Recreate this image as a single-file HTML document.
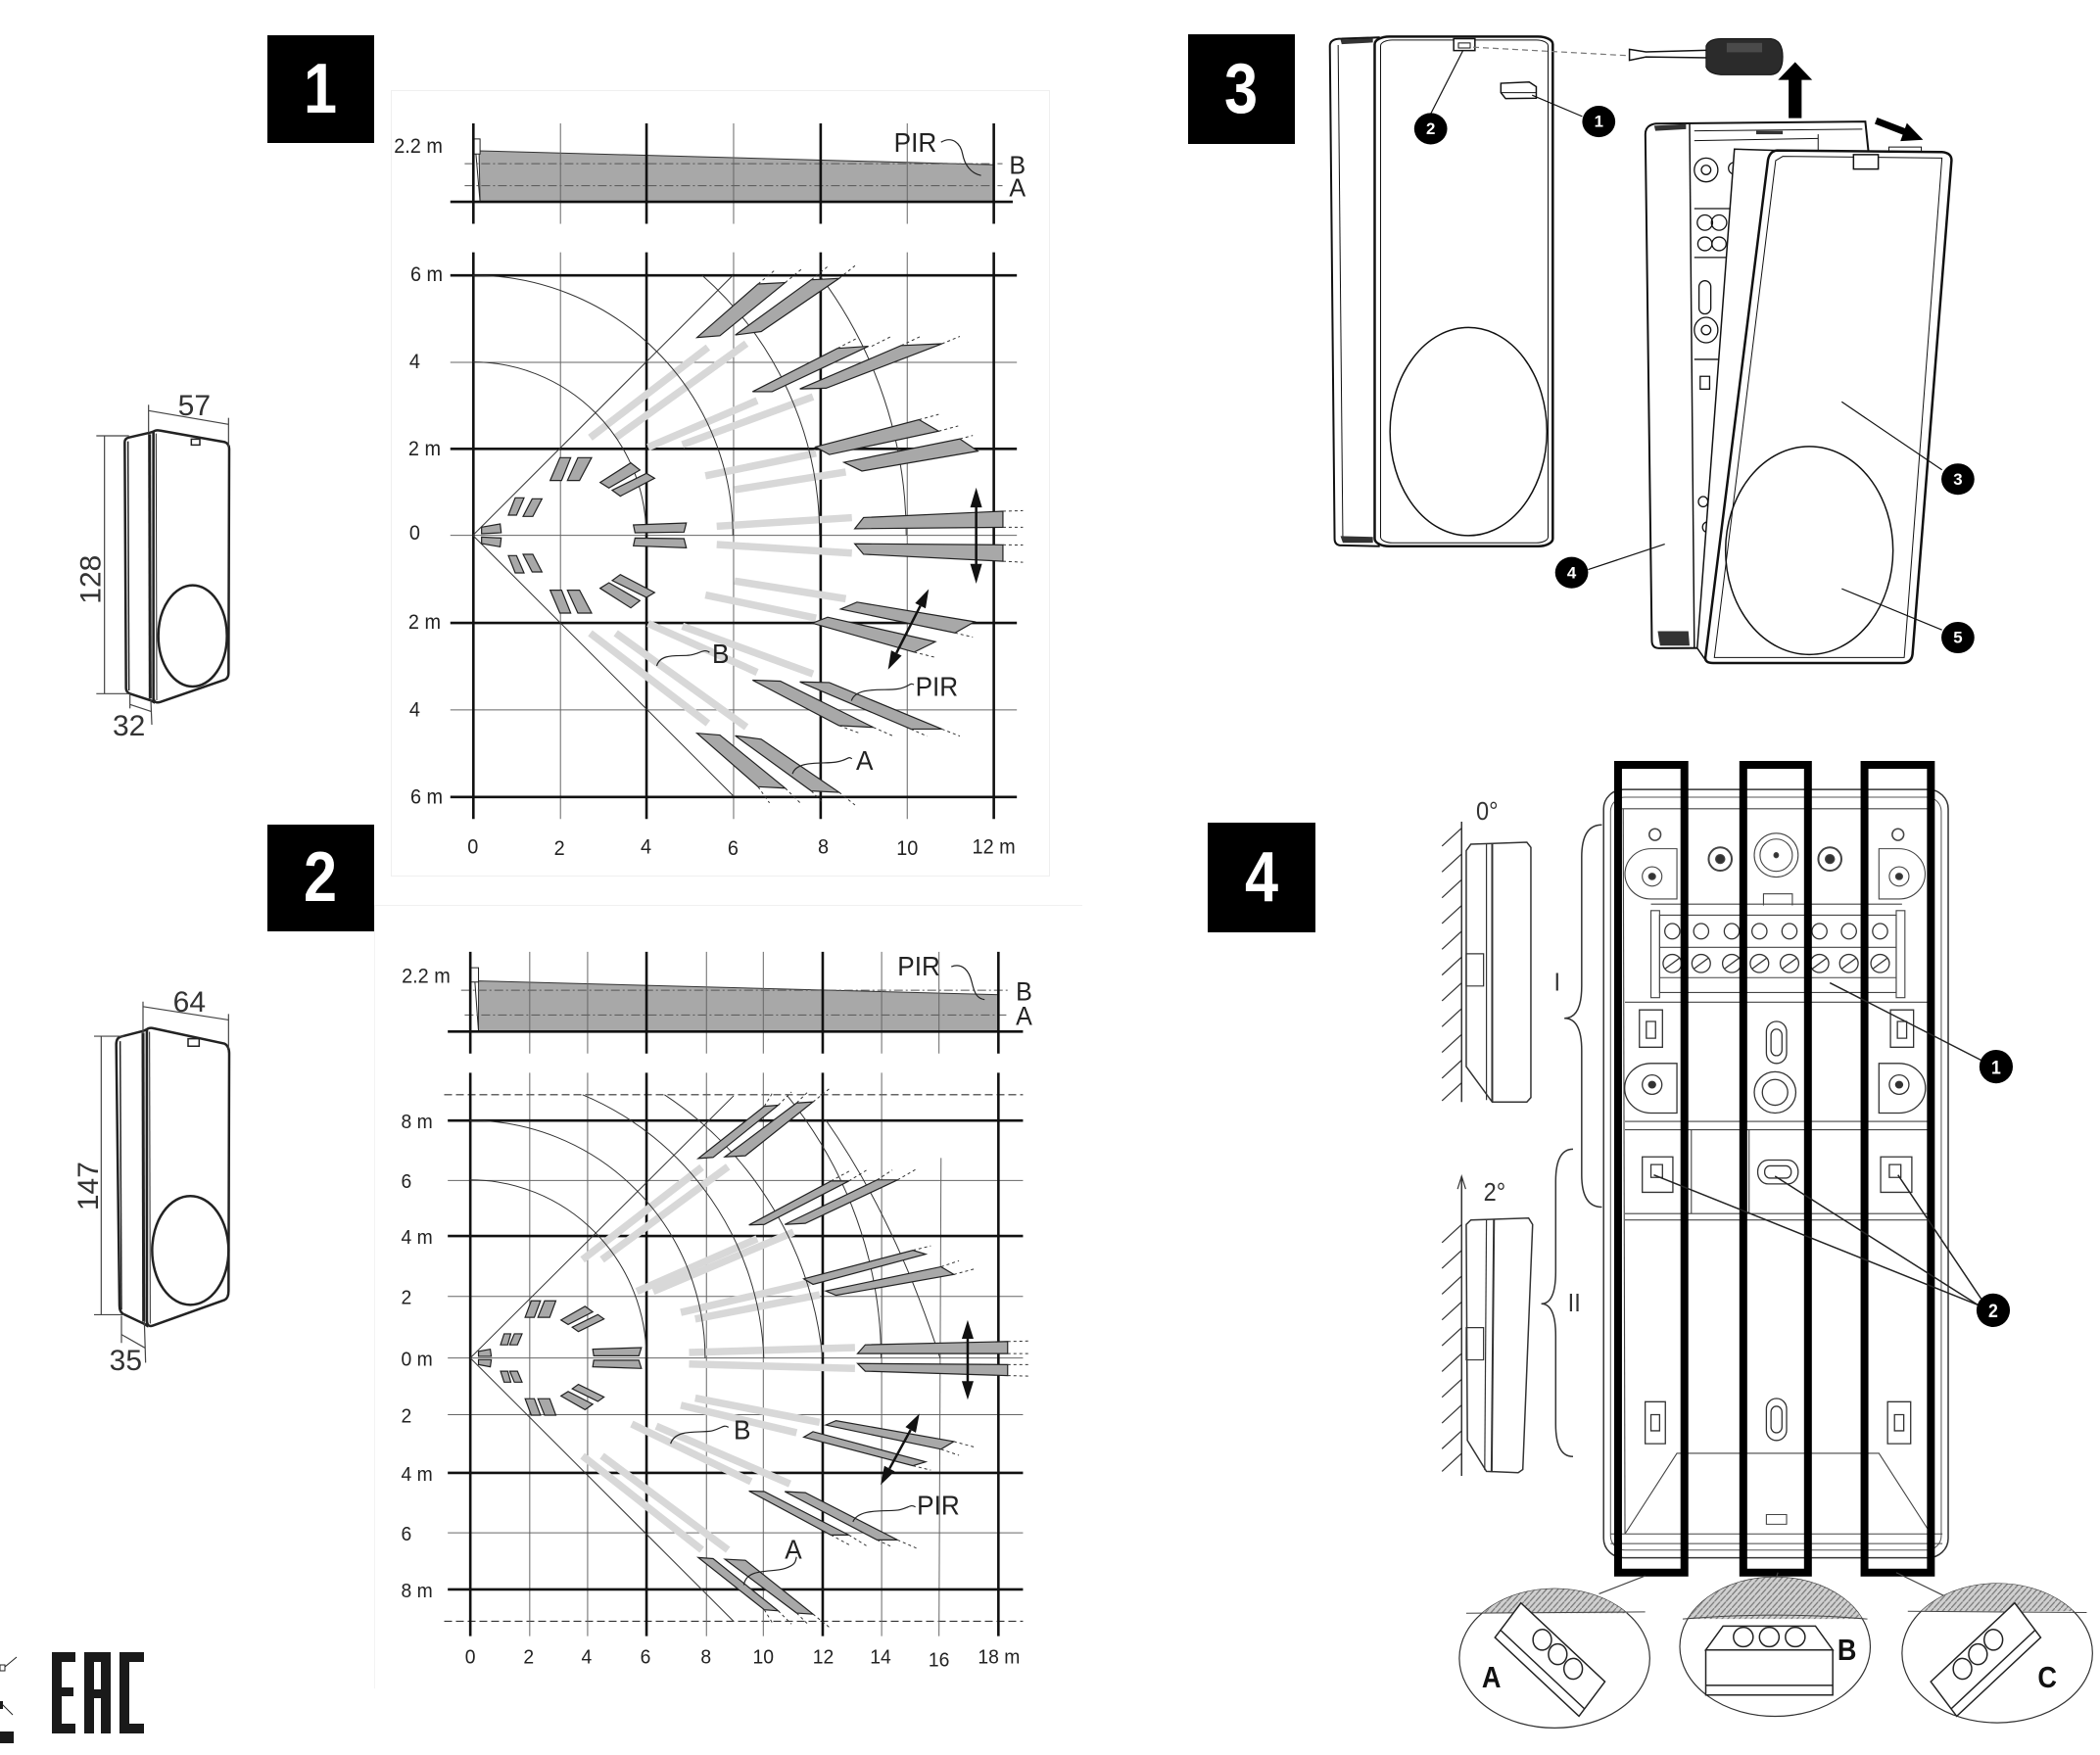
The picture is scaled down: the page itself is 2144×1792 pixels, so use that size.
<!DOCTYPE html>
<html><head><meta charset="utf-8">
<style>
html,body{margin:0;padding:0;background:#fff;}
body{width:2144px;height:1792px;position:relative;overflow:hidden;font-family:"Liberation Sans",sans-serif;}
svg{position:absolute;overflow:visible;}
svg *{vector-effect:non-scaling-stroke;}
.box{position:absolute;background:#000;color:#fff;font-weight:bold;font-size:72px;font-family:"Liberation Sans",sans-serif;text-align:center;}
.box span{display:inline-block;transform:scaleX(0.85);}
.faint{position:absolute;}
</style></head><body>

<div class="faint" style="left:399px;top:92px;width:671px;height:801px;border:1px solid #efefef;"></div>
<div class="faint" style="left:382px;top:924px;width:723px;height:1px;background:#f0f0f0;"></div>
<div class="faint" style="left:382px;top:924px;width:1px;height:800px;background:#f3f3f3;"></div>

<div class="box" style="left:273px;top:36px;width:109px;height:110px;line-height:110px;"><span>1</span></div>
<div class="box" style="left:273px;top:842px;width:109px;height:109px;line-height:109px;"><span>2</span></div>
<div class="box" style="left:1213px;top:35px;width:109px;height:112px;line-height:112px;"><span>3</span></div>
<div class="box" style="left:1233px;top:840px;width:110px;height:112px;line-height:112px;"><span>4</span></div>

<!-- ================= DIAGRAM 1 ================= -->
<svg style="left:260px;top:30px;width:820px;height:860px" viewBox="0 0 1568 1568" preserveAspectRatio="none">
<g font-family="Liberation Sans, sans-serif" fill="#222">
 <polygon points="438,226 1443,252 1443,321 440,321" fill="#a8a8a8" stroke="#333" stroke-width="1"/>
 <line x1="432" y1="232" x2="440" y2="321" stroke="#222" stroke-width="1"/>
 <rect x="428" y="204" width="12" height="28" fill="#fff" stroke="#222" stroke-width="1"/>
 <g stroke="#555" stroke-width="1" stroke-dasharray="9 3 2 3" fill="none">
  <line x1="410" y1="250" x2="1460" y2="250"/>
  <line x1="410" y1="291" x2="1460" y2="291"/>
 </g>
 <g stroke="#666" stroke-width="1">
  <line x1="597" y1="175" x2="597" y2="362"/><line x1="935" y1="175" x2="935" y2="362"/><line x1="1274" y1="175" x2="1274" y2="362"/>
 </g>
 <g stroke="#111" stroke-width="2.6">
  <line x1="427" y1="175" x2="427" y2="362"/><line x1="765" y1="175" x2="765" y2="362"/><line x1="1105" y1="175" x2="1105" y2="362"/><line x1="1443" y1="175" x2="1443" y2="362"/>
  <line x1="382" y1="321" x2="1480" y2="321"/>
 </g>
 <text x="272" y="230" font-size="38">2.2 m</text>
 <text x="1248" y="228" font-size="50">PIR</text>
 <text x="1473" y="269" font-size="48">B</text>
 <text x="1473" y="311" font-size="48">A</text>
 <path d="M1340,210 C1362,198 1378,212 1382,232 S1398,268 1418,272" fill="none" stroke="#222" stroke-width="1.2"/>

 <g stroke="#666" stroke-width="1">
  <line x1="597" y1="415" x2="597" y2="1470"/><line x1="935" y1="415" x2="935" y2="1470"/><line x1="1274" y1="415" x2="1274" y2="1470"/>
  <line x1="382" y1="620" x2="1488" y2="620"/><line x1="382" y1="942" x2="1488" y2="942"/><line x1="382" y1="1267" x2="1488" y2="1267"/>
 </g>
 <g stroke="#111" stroke-width="2.6">
  <line x1="427" y1="415" x2="427" y2="1470"/><line x1="765" y1="415" x2="765" y2="1470"/><line x1="1105" y1="415" x2="1105" y2="1470"/><line x1="1443" y1="415" x2="1443" y2="1470"/>
  <line x1="382" y1="458" x2="1488" y2="458"/><line x1="382" y1="781" x2="1488" y2="781"/><line x1="382" y1="1105" x2="1488" y2="1105"/><line x1="382" y1="1429" x2="1488" y2="1429"/>
 </g>
 <g stroke="#d8d8d8" stroke-width="7.5" stroke-linecap="butt">
  <line x1="655" y1="760" x2="885" y2="592"/><line x1="705" y1="760" x2="960" y2="585"/>
  <line x1="768" y1="778" x2="981" y2="691"/><line x1="835" y1="773" x2="1090" y2="684"/>
  <line x1="880" y1="831" x2="1096" y2="789"/><line x1="937" y1="857" x2="1154" y2="824"/>
  <line x1="902" y1="925" x2="1166" y2="909"/><line x1="902" y1="959" x2="1166" y2="975"/>
  <line x1="937" y1="1027" x2="1154" y2="1060"/><line x1="880" y1="1053" x2="1096" y2="1096"/>
  <line x1="835" y1="1111" x2="1090" y2="1200"/><line x1="768" y1="1106" x2="981" y2="1197"/>
  <line x1="705" y1="1124" x2="960" y2="1299"/><line x1="655" y1="1124" x2="885" y2="1292"/>
 </g>
 <g fill="none" stroke="#333" stroke-width="1">
  <path d="M426,619.2 A338.4,322.8 0 0 1 764.4,942"/>
  <path d="M426,457.8 A507.6,484.2 0 0 1 933.6,942"/>
  <path d="M873.6,457.8 A676.8,645.6 0 0 1 1102.8,942"/>
  <path d="M1102.8,457.8 A846,807 0 0 1 1272,942"/>
  <path d="M426,942 L933.6,457.8"/>
  <path d="M426,942 L933.6,1426.2"/>
 </g>
 <g fill="#a8a8a8" stroke="#222" stroke-width="1.2">
  <polygon points="863.6,573.6 908.2,570.3 1035.7,471.4 982.8,474"/>
  <polygon points="938.2,569 989,562.5 1140.9,463.6 1086.7,466.2"/>
  <polygon points="972,674.5 1010.2,674.5 1198.2,589.9 1137.7,593.8"/>
  <polygon points="1064.4,669.3 1115.4,668 1341.7,585.3 1262,588.6"/>
  <polygon points="1095,777.3 1121.8,791.6 1335.3,748 1297,726.6"/>
  <polygon points="1150.4,806 1185.5,822.2 1411.8,785.1 1376.7,762.4"/>
  <polygon points="1171.5,929.6 1188.7,908.8 1460.8,897 1460.8,927"/>
  <polygon points="1171.5,957.6 1188.7,977.2 1460.8,990.2 1460.8,959.6"/>
  <polygon points="1144.1,1079.3 1175.9,1066.3 1405.4,1102.8 1367.2,1123.6"/>
  <polygon points="1088.6,1105.4 1118.6,1094.3 1328.9,1140 1287.5,1159.4"/>
  <polygon points="972,1211.5 1026.2,1213.4 1207.8,1299.4 1140.9,1296.1"/>
  <polygon points="1064.4,1214.8 1121.8,1216 1341.7,1302.6 1281.1,1302.6"/>
  <polygon points="863.6,1310.4 908.2,1313.7 1035.7,1412.6 982.8,1410"/>
  <polygon points="938.2,1315 989,1321.5 1140.9,1420.4 1086.7,1417.8"/>
  <polygon points="576.9,839.9 596,797.3 617,797.3 599.2,839.9"/>
  <polygon points="610.6,839.9 631,797.3 657.8,797.3 634.2,839.9"/>
  <polygon points="674.4,843.5 734.3,807 752.1,820.4 691.6,853.8"/>
  <polygon points="698,858 764.9,826.5 780.8,835.6 713.9,869"/>
  <polygon points="495.3,904.3 508.7,872.1 525.9,872.1 511.2,904.3"/>
  <polygon points="524,906.7 541.8,873.9 560.9,873.9 543,906.7"/>
  <polygon points="443,926.8 479.3,920.7 481.3,937.1 443,938.9"/>
  <polygon points="739.4,922.5 842.7,918.9 838.2,935.9 742.6,937.1"/>
  <polygon points="576.9,1044.1 596,1086.7 617,1086.7 599.2,1044.1"/>
  <polygon points="610.6,1044.1 631,1086.7 657.8,1086.7 634.2,1044.1"/>
  <polygon points="674.4,1040.5 734.3,1077 752.1,1063.6 691.6,1030.2"/>
  <polygon points="698,1026 764.9,1057.5 780.8,1048.4 713.9,1015"/>
  <polygon points="495.3,979.7 508.7,1011.9 525.9,1011.9 511.2,979.7"/>
  <polygon points="524,977.3 541.8,1010.1 560.9,1010.1 543,977.3"/>
  <polygon points="443,957.2 479.3,963.3 481.3,946.9 443,945.1"/>
  <polygon points="742.6,946.9 838.2,948.1 842.7,965.1 739.4,961.5"/>
 </g>
 <g stroke="#333" stroke-width="1" stroke-dasharray="3 3" fill="none">
  <line x1="982.8" y1="474" x2="1016" y2="448"/><line x1="1035.7" y1="471.4" x2="1068" y2="446"/>
  <line x1="1086.7" y1="466.2" x2="1118" y2="442"/><line x1="1140.9" y1="463.6" x2="1172" y2="440"/>
  <line x1="1137.7" y1="593.8" x2="1179" y2="573.6"/><line x1="1204.6" y1="589.9" x2="1242.9" y2="571.6"/>
  <line x1="1262" y1="588.6" x2="1300.2" y2="571.6"/><line x1="1341.7" y1="585.3" x2="1376.7" y2="571.6"/>
  <line x1="1297" y1="726.6" x2="1335.3" y2="716.8"/><line x1="1335.3" y1="748" x2="1373.5" y2="738.3"/>
  <line x1="1376.7" y1="762.4" x2="1402" y2="756"/>
  <line x1="1460.8" y1="897" x2="1500" y2="896"/><line x1="1460.8" y1="927" x2="1500" y2="927"/>
  <line x1="1460.8" y1="959.6" x2="1500" y2="960"/><line x1="1460.8" y1="990.2" x2="1500" y2="992"/>
  <line x1="1367" y1="1123.6" x2="1402" y2="1131.4"/><line x1="1287.5" y1="1159.4" x2="1329" y2="1169.2"/>
  <line x1="1341.7" y1="1302.6" x2="1376.7" y2="1315.7"/><line x1="1281" y1="1302.6" x2="1313" y2="1316"/>
  <line x1="1140.9" y1="1296.1" x2="1180" y2="1310"/><line x1="1207.8" y1="1299.4" x2="1245" y2="1315"/>
  <line x1="982.8" y1="1410" x2="1005" y2="1440"/><line x1="1035.7" y1="1412.6" x2="1065" y2="1440"/>
  <line x1="1086.7" y1="1417.8" x2="1110" y2="1440"/><line x1="1140.9" y1="1420.4" x2="1172" y2="1444"/>
 </g>
 <g fill="#111" stroke="#111">
  <line x1="1408.6" y1="885" x2="1408.6" y2="1000" stroke-width="2.5"/>
  <polygon points="1408.6,853 1397,890 1420,890" stroke="none"/>
  <polygon points="1408.6,1032 1397,995 1420,995" stroke="none"/>
  <line x1="1299.6" y1="1073" x2="1252.9" y2="1161" stroke-width="2.5"/>
  <polygon points="1316,1042 1309.8,1077.9 1289.4,1068.1" stroke="none"/>
  <polygon points="1236.5,1192 1263.1,1165.9 1242.7,1156.1" stroke="none"/>
 </g>
 <g fill="none" stroke="#222" stroke-width="1.2">
  <path d="M785,1185 C792,1160 830,1168 850,1165 S878,1152 888,1160"/>
  <path d="M1165,1250 C1175,1222 1230,1232 1255,1228 S1278,1215 1287,1220"/>
  <path d="M1050,1386 C1058,1360 1110,1368 1135,1364 S1158,1352 1166,1358"/>
 </g>
 <text x="893" y="1180" font-size="50">B</text>
 <text x="1290" y="1241" font-size="50">PIR</text>
 <text x="1174" y="1378" font-size="50">A</text>
 <g font-size="38">
  <text x="304" y="469">6 m</text>
  <text x="302" y="631">4</text>
  <text x="300" y="793">2 m</text>
  <text x="302" y="950">0</text>
  <text x="300" y="1116">2 m</text>
  <text x="302" y="1279">4</text>
  <text x="304" y="1441">6 m</text>
 </g>
 <g font-size="38" text-anchor="middle">
  <text x="426" y="1534">0</text><text x="595" y="1537">2</text><text x="764" y="1534">4</text>
  <text x="934" y="1537">6</text><text x="1110" y="1534">8</text><text x="1274" y="1537">10</text>
  <text x="1443" y="1534">12 m</text>
 </g>
</g>
</svg>

<!-- ================= DIAGRAM 2 ================= -->
<svg style="left:260px;top:840px;width:820px;height:880px" viewBox="0 0 1568 1568" preserveAspectRatio="none">
<g font-family="Liberation Sans, sans-serif" fill="#222">
 <polygon points="437,288 1452,313 1452,380 437,380" fill="#a8a8a8" stroke="#333" stroke-width="1"/>
 <line x1="430" y1="290" x2="437" y2="380" stroke="#222" stroke-width="1"/>
 <rect x="422" y="264" width="15" height="26" fill="#fff" stroke="#222" stroke-width="1"/>
 <g stroke="#555" stroke-width="1" stroke-dasharray="9 3 2 3" fill="none">
  <line x1="403" y1="305" x2="1470" y2="305"/>
  <line x1="410" y1="350" x2="1470" y2="350"/>
 </g>
 <g stroke="#666" stroke-width="1">
  <line x1="537" y1="235" x2="537" y2="420"/><line x1="650" y1="235" x2="650" y2="420"/><line x1="882" y1="235" x2="882" y2="420"/>
  <line x1="993" y1="235" x2="993" y2="420"/><line x1="1224" y1="235" x2="1224" y2="420"/><line x1="1336" y1="235" x2="1336" y2="420"/>
 </g>
 <g stroke="#111" stroke-width="2.6">
  <line x1="421" y1="235" x2="421" y2="420"/><line x1="765" y1="235" x2="765" y2="420"/><line x1="1109" y1="235" x2="1109" y2="420"/><line x1="1452" y1="235" x2="1452" y2="420"/>
  <line x1="377" y1="380" x2="1500" y2="380"/>
 </g>
 <text x="287" y="291" font-size="38">2.2 m</text>
 <text x="1255" y="278" font-size="50">PIR</text>
 <text x="1486" y="323" font-size="48">B</text>
 <text x="1486" y="368" font-size="48">A</text>
 <path d="M1360,262 C1382,254 1395,270 1400,290 S1410,320 1425,322" fill="none" stroke="#222" stroke-width="1.2"/>

 <g stroke="#333" stroke-width="1.2" stroke-dasharray="8 4">
  <line x1="370" y1="495" x2="1500" y2="495"/><line x1="370" y1="1453" x2="1500" y2="1453"/>
 </g>
 <g stroke="#666" stroke-width="1">
  <line x1="537" y1="455" x2="537" y2="1480"/><line x1="650" y1="455" x2="650" y2="1480"/><line x1="882" y1="455" x2="882" y2="1480"/>
  <line x1="993" y1="455" x2="993" y2="1480"/><line x1="1224" y1="455" x2="1224" y2="1480"/>
  <line x1="1340" y1="610" x2="1336" y2="1480"/>
  <line x1="377" y1="651" x2="1500" y2="651"/><line x1="377" y1="862" x2="1500" y2="862"/><line x1="377" y1="974" x2="1500" y2="974"/>
  <line x1="377" y1="1077" x2="1500" y2="1077"/><line x1="377" y1="1292" x2="1500" y2="1292"/>
 </g>
 <g stroke="#111" stroke-width="2.6">
  <line x1="421" y1="455" x2="421" y2="1480"/><line x1="765" y1="455" x2="765" y2="1480"/><line x1="1109" y1="455" x2="1109" y2="1480"/><line x1="1452" y1="455" x2="1452" y2="1480"/>
  <line x1="377" y1="542" x2="1500" y2="542"/><line x1="377" y1="752" x2="1500" y2="752"/><line x1="377" y1="1183" x2="1500" y2="1183"/><line x1="377" y1="1395" x2="1500" y2="1395"/>
 </g>
 <g stroke="#d8d8d8" stroke-width="7.5">
  <line x1="640" y1="795" x2="873" y2="627"/><line x1="678" y1="795" x2="924" y2="626"/>
  <line x1="746" y1="853" x2="981" y2="757"/><line x1="778" y1="853" x2="1052" y2="745"/>
  <line x1="832" y1="891" x2="1084" y2="837"/><line x1="860" y1="903" x2="1103" y2="859"/>
  <line x1="848" y1="964" x2="1172" y2="955"/><line x1="848" y1="985" x2="1172" y2="993"/>
  <line x1="860" y1="1047" x2="1103" y2="1091"/><line x1="832" y1="1060" x2="1058" y2="1110"/>
  <line x1="784" y1="1098" x2="1045" y2="1203"/><line x1="736" y1="1094" x2="969" y2="1199"/>
  <line x1="678" y1="1152" x2="924" y2="1323"/><line x1="640" y1="1152" x2="873" y2="1323"/>
 </g>
 <g fill="none" stroke="#333" stroke-width="1">
  <path d="M421,650 A343.8,324 0 0 1 764.8,974"/>
  <path d="M421,542 A458.4,432 0 0 1 879.4,974"/>
  <path d="M640,495 A573,540 0 0 1 994,974"/>
  <path d="M800,495 A687.6,648 0 0 1 1108.6,974"/>
  <path d="M1040,497 A802,756 0 0 1 1223,974"/>
  <path d="M1115,541 Q1250,720 1338,974"/>
  <path d="M421,974 L935,497"/>
  <path d="M421,974 L935,1453"/>
 </g>
 <g fill="#a8a8a8" stroke="#222" stroke-width="1.2">
  <polygon points="866,611 895,609 1022,514 995,516"/>
  <polygon points="918,608 958,606 1090,508 1058,510"/>
  <polygon points="965,732 995,731 1160,652 1125,652"/>
  <polygon points="1035,731 1075,729 1255,650 1215,650"/>
  <polygon points="1072,830 1090,840 1310,785 1285,778"/>
  <polygon points="1115,852 1135,860 1365,822 1340,808"/>
  <polygon points="1177,966 1192,950 1470,944 1470,966"/>
  <polygon points="1177,984 1192,998 1470,1006 1470,986"/>
  <polygon points="1115,1096 1135,1088 1365,1126 1340,1140"/>
  <polygon points="1072,1118 1090,1108 1310,1163 1285,1170"/>
  <polygon points="965,1216 995,1217 1160,1296 1125,1296"/>
  <polygon points="1035,1217 1075,1219 1255,1305 1215,1305"/>
  <polygon points="866,1337 895,1339 1022,1434 995,1432"/>
  <polygon points="918,1340 958,1342 1090,1440 1058,1438"/>
  <polygon points="528,900 540,870 558,870 546,900"/>
  <polygon points="553,900 566,870 588,870 576,900"/>
  <polygon points="598,905 645,880 660,890 612,913"/>
  <polygon points="620,918 670,895 682,903 632,926"/>
  <polygon points="480,950 487,930 500,930 494,950"/>
  <polygon points="498,950 507,930 522,930 513,950"/>
  <polygon points="437,962 460,958 462,971 437,971"/>
  <polygon points="660,958 755,955 750,970 662,970"/>
  <polygon points="528,1048 540,1078 558,1078 546,1048"/>
  <polygon points="553,1048 566,1078 588,1078 576,1048"/>
  <polygon points="598,1043 645,1068 660,1058 612,1035"/>
  <polygon points="620,1030 670,1053 682,1045 632,1022"/>
  <polygon points="480,998 487,1018 500,1018 494,998"/>
  <polygon points="498,998 507,1018 522,1018 513,998"/>
  <polygon points="437,986 460,990 462,977 437,977"/>
  <polygon points="662,978 750,978 755,993 660,990"/>
 </g>
 <g stroke="#333" stroke-width="1" stroke-dasharray="3 3" fill="none">
  <line x1="995" y1="516" x2="1012" y2="490"/><line x1="1022" y1="514" x2="1048" y2="490"/>
  <line x1="1058" y1="510" x2="1082" y2="488"/><line x1="1090" y1="508" x2="1122" y2="484"/>
  <line x1="1125" y1="652" x2="1165" y2="632"/><line x1="1160" y1="652" x2="1195" y2="632"/>
  <line x1="1215" y1="650" x2="1245" y2="632"/><line x1="1255" y1="650" x2="1292" y2="630"/>
  <line x1="1285" y1="778" x2="1320" y2="770"/><line x1="1340" y1="808" x2="1375" y2="797"/><line x1="1365" y1="822" x2="1405" y2="812"/>
  <line x1="1470" y1="944" x2="1515" y2="943"/><line x1="1470" y1="966" x2="1515" y2="966"/>
  <line x1="1470" y1="986" x2="1515" y2="986"/><line x1="1470" y1="1006" x2="1515" y2="1007"/>
  <line x1="1365" y1="1126" x2="1405" y2="1136"/><line x1="1340" y1="1140" x2="1375" y2="1151"/><line x1="1285" y1="1170" x2="1320" y2="1178"/>
  <line x1="1125" y1="1296" x2="1165" y2="1316"/><line x1="1160" y1="1296" x2="1195" y2="1316"/>
  <line x1="1215" y1="1305" x2="1245" y2="1318"/><line x1="1255" y1="1305" x2="1292" y2="1320"/>
  <line x1="995" y1="1432" x2="1012" y2="1458"/><line x1="1022" y1="1434" x2="1048" y2="1458"/>
  <line x1="1058" y1="1438" x2="1082" y2="1460"/><line x1="1090" y1="1440" x2="1122" y2="1464"/>
 </g>
 <g fill="#111" stroke="#111">
  <line x1="1392" y1="935" x2="1392" y2="1020" stroke-width="2.5"/>
  <polygon points="1392,905 1380.5,939 1403.5,939" stroke="none"/>
  <polygon points="1392,1050 1380.5,1016 1403.5,1016" stroke="none"/>
  <line x1="1280.6" y1="1104.8" x2="1239.4" y2="1175.2" stroke-width="2.5"/>
  <polygon points="1298,1075 1290.7,1109.9 1270.5,1099.7" stroke="none"/>
  <polygon points="1222,1205 1249.5,1180.3 1229.3,1170.1" stroke="none"/>
 </g>
 <g fill="none" stroke="#222" stroke-width="1.2">
  <path d="M812,1130 C822,1100 875,1112 895,1106 S915,1095 925,1100"/>
  <path d="M1168,1272 C1180,1245 1240,1255 1260,1250 S1280,1240 1290,1245"/>
  <path d="M955,1387 C960,1355 1010,1365 1035,1357 S1055,1342 1058,1336"/>
 </g>
 <text x="935" y="1122" font-size="50">B</text>
 <text x="1293" y="1259" font-size="50">PIR</text>
 <text x="1035" y="1339" font-size="50">A</text>
 <g font-size="37">
  <text x="286" y="556">8 m</text>
  <text x="286" y="665">6</text>
  <text x="286" y="766">4 m</text>
  <text x="286" y="876">2</text>
  <text x="286" y="988">0 m</text>
  <text x="286" y="1091">2</text>
  <text x="286" y="1197">4 m</text>
  <text x="286" y="1306">6</text>
  <text x="286" y="1409">8 m</text>
 </g>
 <g font-size="37" text-anchor="middle">
  <text x="421" y="1530">0</text><text x="535" y="1530">2</text><text x="648" y="1530">4</text>
  <text x="763" y="1530">6</text><text x="881" y="1530">8</text><text x="993" y="1530">10</text>
  <text x="1110" y="1530">12</text><text x="1222" y="1530">14</text><text x="1336" y="1535">16</text>
  <text x="1453" y="1530">18 m</text>
 </g>
</g>
</svg>

<!-- ================= LEFT DEVICE 1 ================= -->
<svg style="left:0px;top:380px;width:260px;height:420px" viewBox="0 0 780 1260">
<g fill="none" stroke="#222">
 <path d="M382,215 Q382,203 395,200 L460,185 L470,182 L470,1010 L460,1005 L398,985 Q386,980 386,968 Z" fill="#fff" stroke-width="2.5"/>
 <line x1="392" y1="212" x2="395" y2="975" stroke-width="1.5"/>
 <line x1="458" y1="190" x2="460" y2="1000" stroke-width="3"/>
 <path d="M470,182 Q478,176 490,179 L688,214 Q702,219 702,235 L700,922 Q700,938 686,943 L492,1010 Q472,1016 470,1000 Z" fill="#fff" stroke-width="2.5"/>
 <line x1="478" y1="188" x2="480" y2="1005" stroke-width="1"/>
 <rect x="586" y="205" width="26" height="18" stroke-width="1.5"/>
 <ellipse cx="590" cy="808" rx="105" ry="155" stroke-width="2.5"/>
 <g stroke="#444" stroke-width="1.2">
  <line x1="455" y1="100" x2="455" y2="185"/><line x1="700" y1="140" x2="700" y2="228"/>
  <line x1="455" y1="118" x2="700" y2="160"/>
  <line x1="295" y1="195" x2="395" y2="195"/><line x1="295" y1="985" x2="395" y2="985"/>
  <line x1="320" y1="195" x2="320" y2="985"/>
  <line x1="398" y1="985" x2="398" y2="1030"/><line x1="462" y1="1005" x2="465" y2="1080"/>
  <line x1="398" y1="1018" x2="465" y2="1040"/>
 </g>
</g>
<g font-family="Liberation Sans, sans-serif" fill="#333" font-size="90">
 <text x="545" y="132">57</text>
 <text transform="translate(307,635) rotate(-90)" text-anchor="middle">128</text>
 <text x="345" y="1113">32</text>
</g>
</svg>

<!-- ================= LEFT DEVICE 2 ================= -->
<svg style="left:0px;top:1000px;width:260px;height:792px" viewBox="0 0 780 1568" preserveAspectRatio="none">
<g fill="none" stroke="#222">
 <path d="M356,132 Q356,118 370,116 L440,104 L450,101 L450,700 L440,696 L376,676 Q366,671 366,660 Z" fill="#fff" stroke-width="2.5"/>
 <line x1="368" y1="125" x2="372" y2="668" stroke-width="1.5"/>
 <line x1="438" y1="108" x2="440" y2="692" stroke-width="3"/>
 <path d="M450,101 Q458,97 470,99 L688,130 Q702,135 702,150 L700,630 Q700,644 688,648 L468,700 Q451,704 450,690 Z" fill="#fff" stroke-width="2.5"/>
 <line x1="458" y1="106" x2="460" y2="696" stroke-width="1"/>
 <rect x="576" y="120" width="34" height="15" stroke-width="1.5"/>
 <ellipse cx="583" cy="548" rx="117" ry="110" stroke-width="2.5"/>
 <g stroke="#444" stroke-width="1.2">
  <line x1="438" y1="45" x2="438" y2="110"/><line x1="700" y1="70" x2="700" y2="140"/>
  <line x1="438" y1="55" x2="700" y2="82"/>
  <line x1="288" y1="115" x2="380" y2="115"/><line x1="288" y1="678" x2="380" y2="678"/>
  <line x1="310" y1="115" x2="310" y2="678"/>
  <line x1="372" y1="680" x2="372" y2="735"/><line x1="442" y1="690" x2="446" y2="775"/>
  <line x1="372" y1="718" x2="444" y2="745"/>
 </g>
</g>
<g font-family="Liberation Sans, sans-serif" fill="#333" font-size="90">
 <text transform="translate(530,65) scale(1,0.66)">64</text>
 <text transform="translate(300,418) scale(1,0.66) rotate(-90)" text-anchor="middle">147</text>
 <text transform="translate(335,790) scale(1,0.66)">35</text>
</g>
</svg>

<!-- ================= EAC / WEEE ================= -->
<svg style="left:0px;top:1640px;width:170px;height:152px" viewBox="0 0 170 152">
<g fill="#1a1a1a">
 <rect x="53" y="47" width="10" height="83"/><rect x="53" y="47" width="24" height="10"/><rect x="53" y="83" width="22" height="9"/><rect x="53" y="120" width="24" height="10"/>
 <rect x="86" y="47" width="10" height="83"/><rect x="103" y="47" width="10" height="83"/><rect x="86" y="47" width="27" height="10"/><rect x="86" y="85" width="27" height="9"/>
 <rect x="122" y="47" width="10" height="83"/><rect x="122" y="47" width="25" height="10"/><rect x="122" y="120" width="25" height="10"/>
 <rect x="0" y="128" width="14" height="12"/>
 <rect x="0" y="97" width="3" height="8"/>
</g>
<g stroke="#222" stroke-width="1" fill="none">
 <rect x="0" y="60" width="5" height="6"/>
 <line x1="5" y1="62" x2="17" y2="52"/>
 <line x1="2" y1="100" x2="13" y2="111"/>
</g>
</svg>

<!-- ================= PANEL 3 ================= -->
<svg style="left:1200px;top:20px;width:944px;height:680px" viewBox="0 0 1568 1568" preserveAspectRatio="none">
<g fill="#fff" stroke="#111">
 <path d="M262,62 Q262,45 282,45 L345,42 L345,1240 L282,1238 Q270,1238 270,1222 Z" stroke-width="2"/>
 <line x1="276" y1="60" x2="284" y2="1228" stroke-width="1"/>
 <polygon points="280,47 335,44 335,54 282,58" fill="#333" stroke="none"/>
 <polygon points="280,1216 335,1218 335,1232 284,1232" fill="#333" stroke="none"/>
 <rect x="338" y="40" width="302" height="1200" rx="25" ry="18" stroke-width="2.5"/>
 <rect x="348" y="48" width="284" height="1184" rx="20" ry="14" fill="none" stroke-width="1"/>
 <ellipse cx="497" cy="970" rx="133" ry="245" fill="none" stroke-width="1.5"/>
 <rect x="472" y="45" width="36" height="28" stroke-width="1.5"/>
 <rect x="480" y="55" width="20" height="12" fill="none" stroke-width="1"/>
 <path d="M552,172 L552,150 L600,147 L612,158 L612,185 L560,186 Z" stroke-width="1.5"/>
 <line x1="552" y1="172" x2="612" y2="172" stroke-width="1"/>

 <path d="M797,270 Q797,248 815,245 L1170,240 L1176,320 L1176,1478 L820,1480 Q808,1480 808,1462 Z" stroke-width="2"/>
 <line x1="872" y1="245" x2="880" y2="1478" stroke-width="1.5"/>
 <polygon points="812,250 866,246 866,258 814,262" fill="#333" stroke="none"/>
 <polygon points="818,1440 870,1440 872,1474 822,1474" fill="#333" stroke="none"/>
 <line x1="880" y1="262" x2="1165" y2="258" stroke-width="1"/>
 <line x1="880" y1="285" x2="1090" y2="280" stroke-width="1"/>
 <line x1="1090" y1="270" x2="1090" y2="310" stroke-width="1"/>
 <rect x="985" y="262" width="45" height="8" fill="#333" stroke="none"/>
 <rect x="1210" y="300" width="55" height="12" stroke-width="1"/>
 <g fill="none" stroke-width="1.3">
  <ellipse cx="900" cy="354" rx="20" ry="28"/><ellipse cx="900" cy="354" rx="8" ry="11"/>
  <ellipse cx="948" cy="350" rx="10" ry="14"/>
  <ellipse cx="898" cy="478" rx="13" ry="18"/><ellipse cx="922" cy="478" rx="13" ry="18"/>
  <ellipse cx="898" cy="528" rx="12" ry="16"/><ellipse cx="922" cy="528" rx="12" ry="16"/>
  <line x1="880" y1="445" x2="960" y2="445"/><line x1="880" y1="560" x2="960" y2="560"/>
  <rect x="888" y="615" width="20" height="78" rx="10" ry="14"/>
  <ellipse cx="900" cy="731" rx="20" ry="30"/><ellipse cx="900" cy="731" rx="8" ry="11"/>
  <line x1="880" y1="800" x2="940" y2="800"/>
  <rect x="890" y="840" width="16" height="30"/>
  <ellipse cx="895" cy="1135" rx="8" ry="12"/><ellipse cx="902" cy="1195" rx="8" ry="12"/>
 </g>
 <path d="M948,305 L1020,308 L899,1508 L885,1480 Z" stroke-width="1.5"/>
 <path d="M1020,308 L1300,312 Q1318,314 1316,335 L1250,1495 Q1248,1515 1232,1515 L912,1515 Q897,1515 899,1500 L1005,330 Q1008,310 1020,308 Z" stroke-width="2.5"/>
 <path d="M1030,322 L1300,326 L1236,1502 L914,1502 L1018,332 Z" fill="none" stroke-width="1"/>
 <rect x="1150" y="318" width="42" height="34" stroke-width="1.5"/>
 <ellipse cx="1075" cy="1250" rx="142" ry="245" fill="none" stroke-width="1.5"/>
</g>
<line x1="505" y1="65" x2="770" y2="85" stroke="#777" stroke-width="1.2" stroke-dasharray="6 4"/>
<polygon points="770,70 798,76 905,72 905,90 798,88 770,96" fill="#fff" stroke="#111" stroke-width="1.5"/>
<path d="M900,62 Q905,45 925,45 L1010,45 Q1030,48 1030,88 Q1030,128 1010,130 L925,130 Q905,128 900,112 Z" fill="#2b2b2b" stroke="#111" stroke-width="1"/>
<rect x="935" y="55" width="60" height="22" fill="#4a4a4a" stroke="none"/>
<rect x="1040" y="138" width="22" height="94" fill="#000"/>
<polygon points="1022,142 1080,142 1051,100" fill="#000"/>
<line x1="1188" y1="238" x2="1238" y2="265" stroke="#000" stroke-width="7"/>
<polygon points="1268,283 1229.5,286.3 1240.5,243.7" fill="#000"/>
<g stroke="#111" stroke-width="1.2">
 <line x1="433" y1="222" x2="488" y2="72"/>
 <line x1="690" y1="228" x2="605" y2="178"/>
 <line x1="1300" y1="1060" x2="1130" y2="900"/>
 <line x1="700" y1="1295" x2="830" y2="1235"/>
 <line x1="1300" y1="1437" x2="1130" y2="1340"/>
</g>
<g fill="#000">
 <ellipse cx="433" cy="257" rx="28" ry="37"/>
 <ellipse cx="718" cy="240" rx="28" ry="37"/>
 <ellipse cx="1327" cy="1082" rx="28" ry="37"/>
 <ellipse cx="672" cy="1302" rx="28" ry="37"/>
 <ellipse cx="1327" cy="1455" rx="28" ry="37"/>
</g>
<g fill="#fff" font-family="Liberation Sans, sans-serif" font-weight="bold" font-size="28" text-anchor="middle">
 <text transform="matrix(1 0 0 1.388 433 270)">2</text>
 <text transform="matrix(1 0 0 1.388 718 253)">1</text>
 <text transform="matrix(1 0 0 1.388 1327 1095)">3</text>
 <text transform="matrix(1 0 0 1.388 672 1315)">4</text>
 <text transform="matrix(1 0 0 1.388 1327 1468)">5</text>
</g>
</svg>

<!-- ================= PANEL 4 ================= -->
<svg style="left:1220px;top:760px;width:924px;height:1032px" viewBox="0 0 1568 1568" preserveAspectRatio="none">
<defs>
 <pattern id="hatch" patternUnits="userSpaceOnUse" width="10" height="10">
  <rect width="10" height="10" fill="#d0d0d0"/>
  <path d="M0,10 L10,0" stroke="#777" stroke-width="1.2"/>
 </pattern>
 <clipPath id="ca"><ellipse cx="623" cy="1418" rx="165" ry="108"/></clipPath>
 <clipPath id="cb"><ellipse cx="1005" cy="1400" rx="165" ry="108"/></clipPath>
 <clipPath id="cc"><ellipse cx="1390" cy="1410" rx="165" ry="108"/></clipPath>
</defs>
<rect x="708" y="70" width="597" height="1192" rx="35" ry="30" fill="#fff" stroke="#333" stroke-width="1.5"/>
<rect x="720" y="82" width="573" height="1168" rx="25" ry="22" fill="none" stroke="#555" stroke-width="1"/>
<g fill="none" stroke="#444" stroke-width="1.1">
 <line x1="740" y1="100" x2="1280" y2="100"/>
 <line x1="742" y1="100" x2="745" y2="1225"/><line x1="1278" y1="100" x2="1275" y2="1225"/>
 <line x1="790" y1="248" x2="1225" y2="248"/>
 <line x1="745" y1="400" x2="1275" y2="400"/>
 <line x1="745" y1="585" x2="1275" y2="585"/><line x1="745" y1="598" x2="1275" y2="598"/>
 <line x1="745" y1="728" x2="1275" y2="728"/><line x1="745" y1="738" x2="1275" y2="738"/>
 <line x1="860" y1="598" x2="860" y2="728"/><line x1="960" y1="598" x2="960" y2="728"/>
 <line x1="1065" y1="598" x2="1065" y2="728"/><line x1="1155" y1="598" x2="1155" y2="728"/>
 <path d="M745,1225 L835,1100 L1185,1100 L1275,1225"/>
 <line x1="720" y1="1225" x2="1295" y2="1225"/><line x1="720" y1="1240" x2="1295" y2="1240"/>
 <rect x="990" y="1195" width="35" height="15"/>
 <path d="M790,162 L835,162 L835,240 L790,240 A45,39 0 0 1 790,162 Z"/>
 <ellipse cx="792" cy="205" rx="17" ry="15"/><ellipse cx="792" cy="205" rx="6" ry="5" fill="#333"/>
 <path d="M1220,162 L1185,162 L1185,240 L1220,240 A45,39 0 0 0 1220,162 Z"/>
 <ellipse cx="1220" cy="205" rx="17" ry="15"/><ellipse cx="1220" cy="205" rx="6" ry="5" fill="#333"/>
 <ellipse cx="797" cy="140" rx="10" ry="9" stroke-width="1.5"/><ellipse cx="1218" cy="140" rx="10" ry="9" stroke-width="1.5"/>
 <ellipse cx="910" cy="178" rx="20" ry="18" stroke-width="2"/><ellipse cx="910" cy="178" rx="8" ry="7" fill="#333"/>
 <ellipse cx="1100" cy="178" rx="20" ry="18" stroke-width="2"/><ellipse cx="1100" cy="178" rx="8" ry="7" fill="#333"/>
 <ellipse cx="1007" cy="172" rx="38" ry="34"/><ellipse cx="1007" cy="172" rx="28" ry="25"/><ellipse cx="1007" cy="172" rx="4" ry="4" fill="#333"/>
 <path d="M985,250 L985,232 L1035,232 L1035,250"/>
 <rect x="805" y="265" width="410" height="120"/>
 <rect x="790" y="258" width="15" height="135"/><rect x="1215" y="258" width="15" height="135"/>
 <line x1="805" y1="315" x2="1215" y2="315"/><line x1="805" y1="362" x2="1215" y2="362"/>
</g>
<g fill="#fff" stroke="#333" stroke-width="1.3">
 <ellipse cx="827" cy="290" rx="13" ry="12"/><ellipse cx="877" cy="290" rx="13" ry="12"/><ellipse cx="930" cy="290" rx="13" ry="12"/><ellipse cx="978" cy="290" rx="13" ry="12"/>
 <ellipse cx="1030" cy="290" rx="13" ry="12"/><ellipse cx="1082" cy="290" rx="13" ry="12"/><ellipse cx="1133" cy="290" rx="13" ry="12"/><ellipse cx="1187" cy="290" rx="13" ry="12"/>
 <ellipse cx="827" cy="340" rx="16" ry="14"/><ellipse cx="877" cy="340" rx="16" ry="14"/><ellipse cx="930" cy="340" rx="16" ry="14"/><ellipse cx="978" cy="340" rx="16" ry="14"/>
 <ellipse cx="1030" cy="340" rx="16" ry="14"/><ellipse cx="1082" cy="340" rx="16" ry="14"/><ellipse cx="1133" cy="340" rx="16" ry="14"/><ellipse cx="1187" cy="340" rx="16" ry="14"/>
</g>
<g stroke="#333" stroke-width="1.3" fill="none">
 <path d="M815,348 L839,332 M865,348 L889,332 M918,348 L942,332 M966,348 L990,332 M1018,348 L1042,332 M1070,348 L1094,332 M1121,348 L1145,332 M1175,348 L1199,332"/>
 <rect x="770" y="412" width="40" height="58"/><rect x="782" y="430" width="16" height="26"/>
 <rect x="1205" y="412" width="40" height="58"/><rect x="1217" y="430" width="16" height="26"/>
 <rect x="990" y="430" width="35" height="65" rx="17" ry="16"/><rect x="998" y="442" width="19" height="41" rx="9" ry="9"/>
 <path d="M790,495 L835,495 L835,572 L790,572 A45,38 0 0 1 790,495 Z"/>
 <ellipse cx="792" cy="528" rx="17" ry="15"/><ellipse cx="792" cy="528" rx="6" ry="5" fill="#333"/>
 <path d="M1220,495 L1185,495 L1185,572 L1220,572 A45,38 0 0 0 1220,495 Z"/>
 <ellipse cx="1220" cy="528" rx="17" ry="15"/><ellipse cx="1220" cy="528" rx="6" ry="5" fill="#333"/>
 <ellipse cx="1005" cy="540" rx="36" ry="32"/><ellipse cx="1005" cy="540" rx="22" ry="20"/>
 <rect x="775" y="640" width="53" height="55"/><rect x="790" y="652" width="20" height="20"/>
 <rect x="1188" y="640" width="54" height="55"/><rect x="1203" y="652" width="20" height="20"/>
 <rect x="975" y="645" width="70" height="37" rx="18" ry="18"/><rect x="987" y="654" width="46" height="19" rx="9" ry="9"/>
 <rect x="780" y="1020" width="35" height="65"/><rect x="790" y="1040" width="15" height="25"/>
 <rect x="1200" y="1020" width="40" height="65"/><rect x="1212" y="1040" width="16" height="25"/>
 <rect x="990" y="1015" width="35" height="65" rx="17" ry="16"/><rect x="998" y="1027" width="19" height="41" rx="9" ry="9"/>
</g>
<g fill="none" stroke="#000" stroke-width="8">
 <rect x="733" y="32" width="115" height="1253"/>
 <rect x="950" y="32" width="112" height="1253"/>
 <rect x="1160" y="32" width="115" height="1253"/>
</g>
<g stroke="#222" stroke-width="1.5" fill="none">
 <line x1="1100" y1="370" x2="1362" y2="490"/>
 <line x1="795" y1="668" x2="1357" y2="870"/>
 <line x1="1005" y1="670" x2="1357" y2="870"/>
 <line x1="1218" y1="668" x2="1362" y2="860"/>
</g>
<ellipse cx="1388" cy="500" rx="29" ry="26" fill="#000"/>
<ellipse cx="1383" cy="878" rx="29" ry="26" fill="#000"/>
<g fill="#fff" font-family="Liberation Sans, sans-serif" font-weight="bold" font-size="30" text-anchor="middle">
 <text x="1388" y="511">1</text>
 <text x="1383" y="889">2</text>
</g>
<g fill="none" stroke="#333" stroke-width="1.5">
 <path d="M705,125 Q670,125 670,175 L670,375 Q670,425 640,425 Q670,425 670,475 L670,668 Q670,718 705,718"/>
 <path d="M655,628 Q625,628 625,678 L625,818 Q625,868 600,868 Q625,868 625,918 L625,1055 Q625,1105 655,1105"/>
</g>
<g fill="none" stroke="#333" stroke-width="1.2">
 <line x1="462" y1="120" x2="462" y2="555" stroke-width="1.5"/>
 <path d="M462,130 L428,158 M462,170 L428,198 M462,210 L428,238 M462,250 L428,278 M462,290 L428,318 M462,330 L428,358 M462,370 L428,398 M462,410 L428,438 M462,450 L428,478 M462,490 L428,518 M462,525 L428,553"/>
 <path d="M470,165 L478,155 L575,152 L582,160 L582,548 L575,555 L515,555 L470,500 Z" fill="#fff" stroke-width="1.5"/>
 <line x1="505" y1="155" x2="505" y2="552"/><line x1="515" y1="153" x2="515" y2="555" stroke-width="2"/>
 <rect x="470" y="325" width="30" height="50"/>
 <line x1="462" y1="670" x2="462" y2="1135" stroke-width="1.5"/>
 <path d="M455,690 L462,670 L469,690"/>
 <path d="M462,745 L428,773 M462,785 L428,813 M462,825 L428,853 M462,865 L428,893 M462,905 L428,933 M462,945 L428,973 M462,985 L428,1013 M462,1025 L428,1053 M462,1065 L428,1093 M462,1100 L428,1128"/>
 <path d="M470,745 L478,738 L578,735 L585,745 L568,1125 L560,1130 L505,1128 L472,1080 Z" fill="#fff" stroke-width="1.5"/>
 <line x1="505" y1="738" x2="502" y2="1126"/><line x1="518" y1="737" x2="514" y2="1128" stroke-width="2"/>
 <rect x="470" y="905" width="30" height="50"/>
</g>
<g font-family="Liberation Sans, sans-serif" fill="#333" font-size="40">
 <text x="487" y="117">0°</text>
 <text x="500" y="708">2°</text>
 <text x="622" y="382">I</text>
 <text x="646" y="880">II</text>
</g>
<g stroke="#444" stroke-width="1.2">
 <line x1="780" y1="1290" x2="700" y2="1318"/>
 <line x1="1010" y1="1285" x2="1000" y2="1312"/>
 <line x1="1215" y1="1285" x2="1300" y2="1322"/>
</g>
<ellipse cx="623" cy="1418" rx="165" ry="108" fill="#fff" stroke="#333" stroke-width="1.2"/>
<rect x="450" y="1300" width="350" height="48" fill="url(#hatch)" clip-path="url(#ca)"/>
<line x1="470" y1="1348" x2="780" y2="1346" stroke="#444" stroke-width="1"/>
<g transform="translate(615,1420) rotate(40)" fill="#fff" stroke="#222" stroke-width="1.5">
 <rect x="-95" y="-35" width="190" height="70"/>
 <line x1="-95" y1="20" x2="95" y2="20"/>
 <circle cx="-30" cy="-15" r="16"/><circle cx="5" cy="-15" r="16"/><circle cx="40" cy="-15" r="16"/>
</g>
<ellipse cx="1005" cy="1400" rx="165" ry="108" fill="#fff" stroke="#333" stroke-width="1.2"/>
<rect x="830" y="1285" width="350" height="72" fill="url(#hatch)" clip-path="url(#cb)"/>
<path d="M845,1357 Q1005,1345 1165,1357" fill="none" stroke="#444" stroke-width="1"/>
<g fill="#fff" stroke="#222" stroke-width="1.5">
 <path d="M885,1405 L915,1368 L1075,1368 L1105,1405 Z"/>
 <rect x="885" y="1405" width="220" height="70"/>
 <ellipse cx="950" cy="1385" rx="17" ry="15"/><ellipse cx="995" cy="1385" rx="17" ry="15"/><ellipse cx="1040" cy="1385" rx="17" ry="15"/>
 <line x1="885" y1="1460" x2="1105" y2="1460"/>
</g>
<ellipse cx="1390" cy="1410" rx="165" ry="108" fill="#fff" stroke="#333" stroke-width="1.2"/>
<rect x="1215" y="1295" width="350" height="50" fill="url(#hatch)" clip-path="url(#cc)"/>
<line x1="1235" y1="1345" x2="1545" y2="1347" stroke="#444" stroke-width="1"/>
<g transform="translate(1370,1420) rotate(-40)" fill="#fff" stroke="#222" stroke-width="1.5">
 <rect x="-95" y="-35" width="190" height="70"/>
 <line x1="-95" y1="20" x2="95" y2="20"/>
 <circle cx="-40" cy="-15" r="16"/><circle cx="-5" cy="-15" r="16"/><circle cx="30" cy="-15" r="16"/>
</g>
<g font-family="Liberation Sans, sans-serif" font-weight="bold" fill="#111" font-size="46">
 <text x="497" y="1463">A</text>
 <text x="1113" y="1421">B</text>
 <text x="1460" y="1463">C</text>
</g>
</svg>

</body></html>
